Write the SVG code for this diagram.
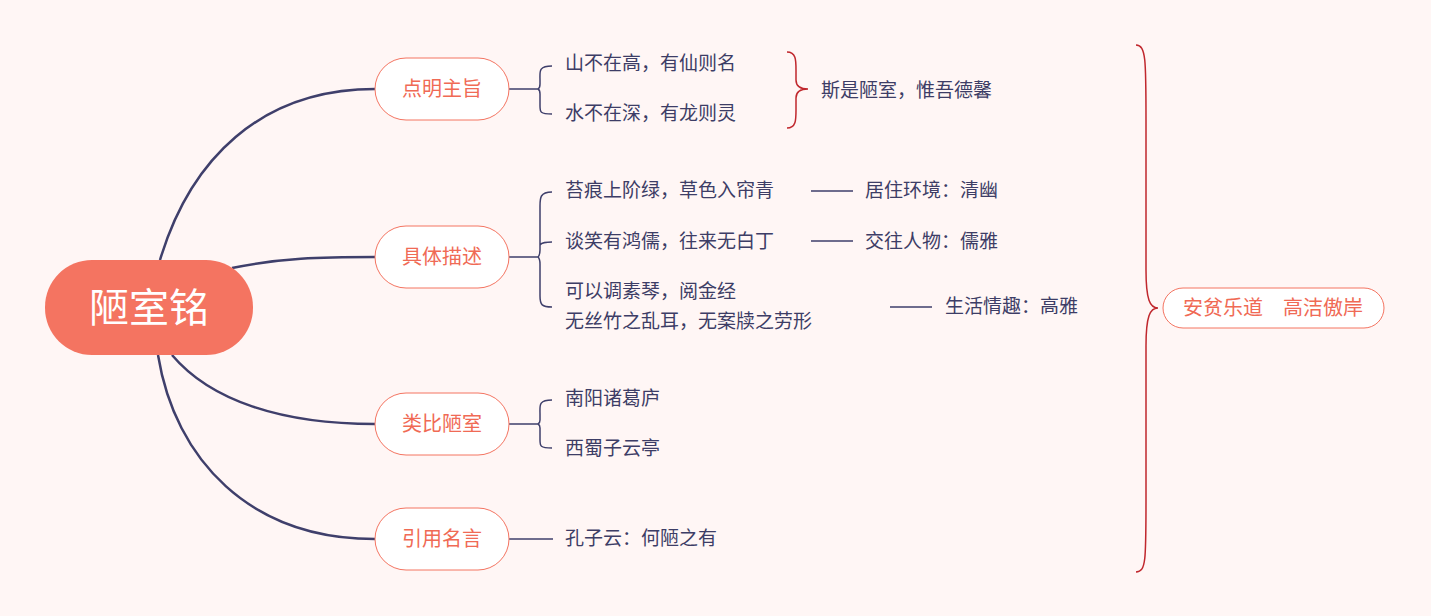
<svg xmlns="http://www.w3.org/2000/svg" width="1431" height="616" viewBox="0 0 1431 616">
<style>
text{font-family:"Noto Sans CJK SC","Noto Sans",sans-serif}
.t{font-size:19px;fill:#3d3d66}
.b{fill:#fff;stroke:#f47461;stroke-width:1}
.bt{font-size:20px;fill:#f06a55;text-anchor:middle}
.c{fill:none;stroke:#3f3f6b;stroke-width:2.5}
.s{fill:none;stroke:#3f3f6b;stroke-width:1.5}
.r{fill:none;stroke:#c0272d;stroke-width:1.5}
</style>
<rect width="1431" height="616" fill="#fff6f5"/>
<g id="connectors">
<path class="c" d="M160 260 C190 160 260 89 375 89"/>
<path class="c" d="M232 268 C280 258 320 257 375 257"/>
<path class="c" d="M172 355 C210 400 280 424 375 424"/>
<path class="c" d="M158 355 C175 460 250 539 375 539"/>
<path class="s" d="M509 89 H538 M552 66 C538 66 540 72 540 80 V84 C540 88 538 89 538 89 C538 89 540 90 540 94 V106 C540 112 540 114 552 114"/>
<path class="s" d="M509 257 H538 M552 192 C540 192 540 198 540 206 V250 C540 255 538 257 538 257 C538 257 540 259 540 264 V296 C540 305 542 307 552 307 M540 245 C542 242 546 242 552 242"/>
<path class="s" d="M509 424 H538 M552 400 C538 400 540 406 540 414 V420 C540 423 538 424 538 424 C538 424 540 425 540 428 V440 C540 446 540 448 552 448"/>
<path class="s" d="M509 539 H553"/>
<path class="s" d="M811 191 H853 M811 241 H853 M890 307 H932"/>
<path class="r" d="M787 52 C796 52 796 60 796 70 V80 C796 86 800 89 808 89 C800 89 796 92 796 98 V110 C796 120 796 128 787 128"/>
<path class="r" d="M1136 45 C1146 45 1146 60 1146 120 V270 C1146 300 1150 308 1158 308 C1150 308 1146 316 1146 346 V500 C1146 560 1146 572 1136 572"/>
</g>
<g id="root"><rect x="45" y="260" width="208" height="95" rx="47" fill="#f47461"/><text x="149" y="322" font-size="40" fill="#fff" text-anchor="middle">陋室铭</text></g>
<g id="n1"><rect class="b" x="375" y="58" width="134" height="62" rx="31"/><text class="bt" x="442" y="96">点明主旨</text></g>
<g id="n2"><rect class="b" x="375" y="226" width="134" height="62" rx="31"/><text class="bt" x="442" y="264">具体描述</text></g>
<g id="n3"><rect class="b" x="375" y="393" width="134" height="62" rx="31"/><text class="bt" x="442" y="431">类比陋室</text></g>
<g id="n4"><rect class="b" x="375" y="508" width="134" height="62" rx="31"/><text class="bt" x="442" y="546">引用名言</text></g>
<g id="leaves">
<text class="t" x="565" y="70">山不在高，有仙则名</text>
<text class="t" x="565" y="120">水不在深，有龙则灵</text>
<text class="t" x="821" y="97">斯是陋室，惟吾德馨</text>
<text class="t" x="565" y="197">苔痕上阶绿，草色入帘青</text>
<text class="t" x="865" y="197">居住环境：清幽</text>
<text class="t" x="565" y="248">谈笑有鸿儒，往来无白丁</text>
<text class="t" x="865" y="248">交往人物：儒雅</text>
<text class="t" x="565" y="298">可以调素琴，阅金经</text>
<text class="t" x="565" y="328">无丝竹之乱耳，无案牍之劳形</text>
<text class="t" x="945" y="313">生活情趣：高雅</text>
<text class="t" x="565" y="405">南阳诸葛庐</text>
<text class="t" x="565" y="455">西蜀子云亭</text>
<text class="t" x="565" y="545">孔子云：何陋之有</text>
</g>
<g id="summary"><rect class="b" x="1163" y="288" width="221" height="40" rx="20"/><text class="bt" x="1273" y="315">安贫乐道　高洁傲岸</text></g>
</svg>
